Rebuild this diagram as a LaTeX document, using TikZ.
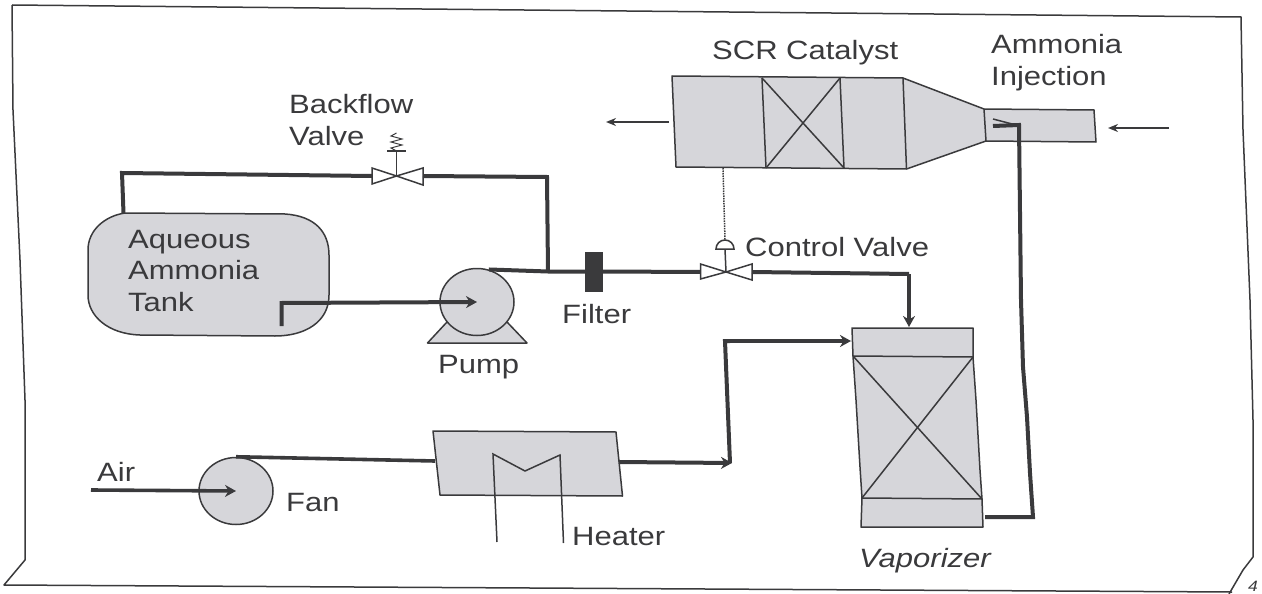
\documentclass[tikz,border=0pt]{standalone}
\usepackage{fontspec}
\setmainfont[FakeStretch=1.17]{Liberation Sans}
\usetikzlibrary{arrows.meta,shapes.geometric}
\definecolor{ink}{HTML}{3A3A3C}
\definecolor{shade}{HTML}{D6D6DA}
\tikzset{
  unit/.style={draw=ink,fill=shade,line width=1.5pt,line join=round},
  thin line/.style={draw=ink,line width=1.5pt},
  pipe/.style={draw=ink,line width=4pt,line join=miter},
  flow/.style={draw=ink,line width=1.8pt,-{Stealth[length=10pt,width=8pt]}},
  pipe arrow/.style={pipe,-{Stealth[length=11pt,width=12pt]}},
  lbl/.style={text=ink,inner sep=0pt,anchor=base west,align=left,
    font=\fontsize{26.5}{31.5}\selectfont}
}
\begin{document}
\begin{tikzpicture}[x=1pt,y=-1pt]
\useasboundingbox (0,0) rectangle (1262,594);

% page outline
\draw[thin line,line join=round] (12,5)--(1241,17)--(1243,130)--(1250,300)--(1253,420)--(1253,557)--(1243,570)--(1229,594);
\draw[thin line,line join=round] (12,5)--(13,110)--(20,260)--(25,400)--(25,560)--(4,585)--(1232,592);
\node[lbl,font=\fontsize{15}{18}\selectfont\itshape] (pagelbl) at (1248,591) {4};

% SCR duct
\draw[unit] (672,76)--(903,78)--(984,109)--(1094,110)--(1096,142)--(986,141)--(906.5,169)--(676,167)--cycle;
\draw[thin line] (762,78)--(766,168);
\draw[thin line] (840,78)--(844,168);
\draw[thin line] (762,78)--(844,168);
\draw[thin line] (840,78)--(766,168);
\draw[thin line] (903,78)--(906.5,169);
\draw[thin line] (984,109)--(986,141);
\node[lbl] (scrlbl) at (712,60) {SCR Catalyst};
\node[lbl] (injlbl) at (991,85) {Ammonia\\Injection};
\coordinate (gasoutA) at (669,122);
\coordinate (gasoutB) at (606,122);
\coordinate (gasinA) at (1169,128);
\coordinate (gasinB) at (1108,128);
\draw[flow] (gasoutA)--(gasoutB);
\draw[flow] (gasinA)--(gasinB);

% tank
\draw[unit] (125,213)--(285,214) .. controls (315,216) and (329,232) .. (329,255)--(329,295) .. controls (329,322) and (305,336) .. (275,336)--(140,335) .. controls (108,334) and (88,316) .. (88,295)--(88,250) .. controls (88,230) and (105,216) .. (125,213)--cycle;
\node[lbl] (tanklbl) at (128,311) {Aqueous\\Ammonia\\Tank};

% pump
\draw[unit] (427.5,343)--(527,343)--(507,322)--(447,322)--cycle;
\node[unit,ellipse,minimum width=74pt,minimum height=67pt,inner sep=0pt] (pump) at (477,302) {};
\node[lbl] (pumplbl) at (438,373) {Pump};
\coordinate (tankdip) at (281.5,326);
\coordinate (tankelbow) at (281.5,303);
\draw[pipe arrow] (tankdip)--(tankelbow)--(pump.center);

% backflow valve
\coordinate (bfv) at (396.5,176);
\coordinate (bfvleft) at (372,176);
\coordinate (bfvright) at (423,176);
\draw[fill=white,draw=ink,line width=1.5pt] (372,168)--(bfv)--(372,184)--cycle;
\draw[fill=white,draw=ink,line width=1.5pt] (423,168)--(bfv)--(423,185)--cycle;
\draw[thin line] (bfv)--(396.5,151);
\draw[thin line] (387,151)--(406,151);
\draw[draw=ink,line width=1pt] (396.5,151)--(391,148)--(402,145)--(391,142)--(402,139)--(391,136)--(396.5,133);
\node[lbl] (bfvlbl) at (289,145) {Backflow\\Valve};

% filter and feed line
\node[draw=ink,fill=ink,minimum width=17pt,minimum height=39pt,inner sep=0pt] (filter) at (593.5,271.5) {};
\node[lbl] (filterlbl) at (562,323) {Filter};
\coordinate (junction) at (548,271.5);
\coordinate (bfvelbowR) at (547,177);
\coordinate (bfvelbowL) at (122,173);
\coordinate (tanktop) at (123.5,213);
\draw[pipe] (pump.70)--(junction)--(filter.west);
\draw[pipe] (junction)--(bfvelbowR)--(bfvright);
\draw[pipe] (bfvleft)--(bfvelbowL)--(tanktop);

% control valve
\coordinate (cv) at (726,272);
\coordinate (cvleft) at (700.5,272);
\coordinate (cvright) at (752,272);
\draw[pipe] (filter.east)--(cvleft);
\draw[fill=white,draw=ink,line width=1.5pt] (700.5,264)--(cv)--(700.5,279)--cycle;
\draw[fill=white,draw=ink,line width=1.5pt] (752,264)--(cv)--(752,280)--cycle;
\coordinate (actuator) at (725,249);
\coordinate (actuatortop) at (725,240);
\coordinate (scrtap) at (723,168);
\draw[thin line] (cv)--(actuator);
\draw[fill=white,draw=ink,line width=1.5pt] (716,249) arc (180:360:9)--cycle;
\draw[draw=ink,line width=1.5pt,densely dotted] (scrtap)--(actuatortop);
\node[lbl] (cvlbl) at (745,256) {Control Valve};

% vaporizer
\draw[unit] (852,328)--(973,328)--(973,357)--(976,400)--(980,470)--(982,499)--(983,527)--(861,527)--(862,498)--(860,467)--(856,400)--(853,356)--cycle;
\draw[thin line] (853,356)--(973,357);
\draw[thin line] (862,498)--(982,499);
\draw[thin line] (853,356)--(982,499);
\draw[thin line] (973,357)--(862,498);
\node[lbl,font=\fontsize{26.5}{31.5}\selectfont\itshape] (vaplbl) at (859,567) {Vaporizer};
\coordinate (vapin) at (909,327);
\coordinate (cvelbow) at (909,274);
\draw[pipe] (cvright)--(cvelbow);
\draw[pipe arrow] (cvelbow)--(vapin);

% injection line
\coordinate (vapout) at (985,517);
\coordinate (injelbow) at (1033,517);
\coordinate (injbend) at (1021,300);
\coordinate (injtop) at (1019,125);
\coordinate (nozzle) at (993,126);
\draw[pipe] (vapout)--(injelbow)--(1030,473)--(1027,417)--(1023,367)--(injbend)--(injtop)--(nozzle);
\draw[thin line] (993,119)--(1016,125);

% fan and heater
\node[unit,ellipse,minimum width=74pt,minimum height=67pt,inner sep=0pt] (fan) at (236,491) {};
\node[lbl] (fanlbl) at (286,511) {Fan};
\node[lbl] (airlbl) at (97,481) {Air};
\coordinate (airin) at (91,490);
\draw[pipe arrow,line width=3.6pt] (airin)--(fan.center);
\draw[unit] (433,431)--(616,432)--(622.5,496)--(440,495)--cycle;
\coordinate (heaterin) at (435,461);
\coordinate (heaterout) at (619,462);
\draw[pipe,line width=3.6pt] (fan.north)--(heaterin);
\draw[thin line] (497,542)--(493,454)--(525,471)--(560,455)--(563.5,543);
\node[lbl] (heaterlbl) at (572,545) {Heater};
\coordinate (riser) at (732,463);
\coordinate (riserb) at (725,341);
\coordinate (vapside) at (851,341);
\draw[pipe arrow] (heaterout)--(riser);
\draw[pipe] (730,463)--(riserb)--(730,341);
\draw[pipe arrow] (riserb)--(vapside);

\end{tikzpicture}
\end{document}
